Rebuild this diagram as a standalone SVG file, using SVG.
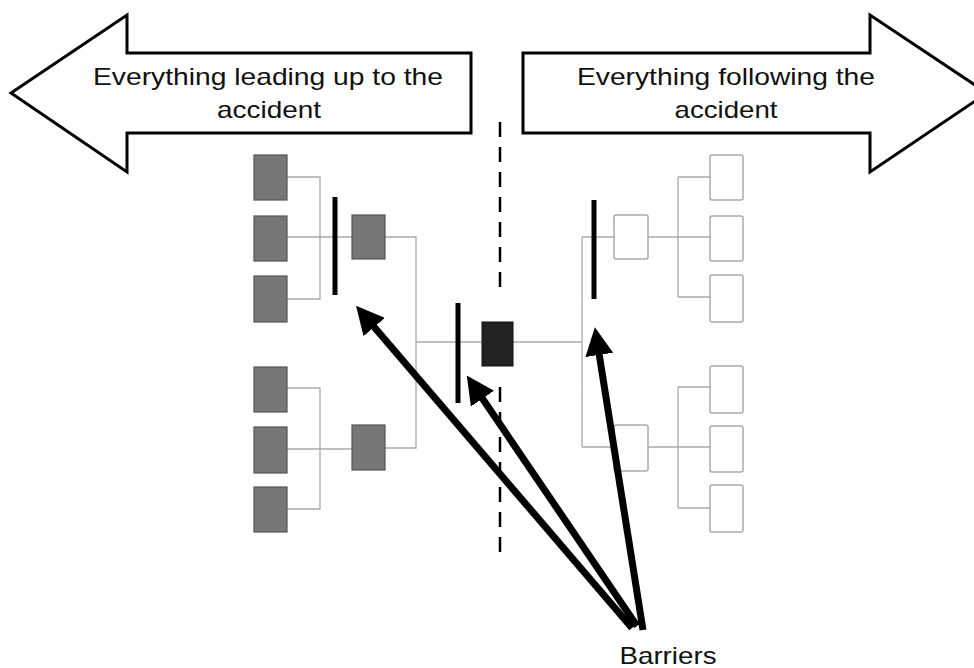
<svg xmlns="http://www.w3.org/2000/svg" width="974" height="668" viewBox="0 0 974 668">
<defs>
<style>
.big{fill:#fff;stroke:#000;stroke-width:3;stroke-linejoin:miter}
.t{font-family:"Liberation Sans",Arial,sans-serif;font-size:24px;fill:#111;text-anchor:middle}
.g{fill:#777;stroke:#555;stroke-width:1.2}
.w{fill:#fff;stroke:#aaa;stroke-width:1.5}
.blk{fill:#222;stroke:#111;stroke-width:1}
.c{fill:none;stroke:#aaa;stroke-width:1.3}
.bar{stroke:#000;stroke-width:5}
.dash{stroke:#000;stroke-width:2.5;stroke-dasharray:15 10}
.pt{stroke:#000;stroke-width:7;fill:none}
</style>
<marker id="ah" viewBox="0 0 28 28" refX="8" refY="14" markerWidth="28" markerHeight="28" orient="auto" markerUnits="userSpaceOnUse">
<path d="M0,0 L28,14 L0,28 Z" fill="#000"/>
</marker>
</defs>

<g id="arrow-before">
<polygon class="big" points="11,93 127,15 127,53 471,53 471,133 127,133 127,172"/>
<text class="t" x="268" y="85" textLength="350" lengthAdjust="spacingAndGlyphs">Everything leading up to the</text>
<text class="t" x="269" y="118" textLength="104" lengthAdjust="spacingAndGlyphs">accident</text>
</g>
<g id="arrow-after">
<polygon class="big" points="987,93 870,15 870,53 523,53 523,133 870,133 870,172"/>
<text class="t" x="726" y="85" textLength="298" lengthAdjust="spacingAndGlyphs">Everything following the</text>
<text class="t" x="726" y="118" textLength="103" lengthAdjust="spacingAndGlyphs">accident</text>
</g>

<g id="divider">
<line class="dash" x1="500" y1="122" x2="500" y2="296"/>
<line class="dash" x1="500" y1="387" x2="500" y2="558"/>
</g>

<g id="connectors">
<path class="c" d="M287,177 H320 V299 H287 M287,237 H352 M385,237 H416 V448 H385 M287,388 H320 V509 H287 M287,449 H352 M416,342 H482 M513,342 H582 M582,237 V447 M582,237 H614 M582,447 H614 M648,237 H678 M678,177 V297 M678,177 H710 M678,237 H710 M678,297 H710 M648,447 H678 M678,387 V508 M678,387 H710 M678,447 H710 M678,508 H710"/>
</g>

<g id="cause-1"><rect class="g" x="254" y="155" width="33" height="45"/></g>
<g id="cause-2"><rect class="g" x="254" y="216" width="33" height="45"/></g>
<g id="cause-3"><rect class="g" x="254" y="276" width="33" height="46"/></g>
<g id="cause-4"><rect class="g" x="254" y="367" width="33" height="45"/></g>
<g id="cause-5"><rect class="g" x="254" y="427" width="33" height="46"/></g>
<g id="cause-6"><rect class="g" x="254" y="487" width="33" height="45"/></g>
<g id="cause-a"><rect class="g" x="352" y="215" width="33" height="44"/></g>
<g id="cause-b"><rect class="g" x="352" y="425" width="33" height="45"/></g>
<g id="accident"><rect class="blk" x="482" y="322" width="31" height="44"/></g>
<g id="effect-a"><rect class="w" x="614" y="215" width="34" height="44" rx="2"/></g>
<g id="effect-b"><rect class="w" x="614" y="425" width="34" height="46" rx="2"/></g>
<g id="effect-1"><rect class="w" x="710" y="155" width="33" height="45" rx="2"/></g>
<g id="effect-2"><rect class="w" x="710" y="216" width="33" height="45" rx="2"/></g>
<g id="effect-3"><rect class="w" x="710" y="275" width="33" height="47" rx="2"/></g>
<g id="effect-4"><rect class="w" x="710" y="366" width="33" height="47" rx="2"/></g>
<g id="effect-5"><rect class="w" x="710" y="426" width="33" height="46" rx="2"/></g>
<g id="effect-6"><rect class="w" x="710" y="485" width="33" height="47" rx="2"/></g>

<g id="barrier-1"><line class="bar" x1="335" y1="197" x2="335" y2="295"/></g>
<g id="barrier-2"><line class="bar" x1="458" y1="303" x2="458" y2="403"/></g>
<g id="barrier-3"><line class="bar" x1="594" y1="200" x2="594" y2="299"/></g>

<g id="pointers">
<line class="pt" x1="632" y1="628" x2="369" y2="321" marker-end="url(#ah)"/>
<line class="pt" x1="637" y1="626" x2="478" y2="392" marker-end="url(#ah)"/>
<line class="pt" x1="643" y1="630" x2="598" y2="347" marker-end="url(#ah)"/>
</g>

<g id="label-barriers">
<text class="t" x="668" y="664" textLength="97" lengthAdjust="spacingAndGlyphs">Barriers</text>
</g>
</svg>
